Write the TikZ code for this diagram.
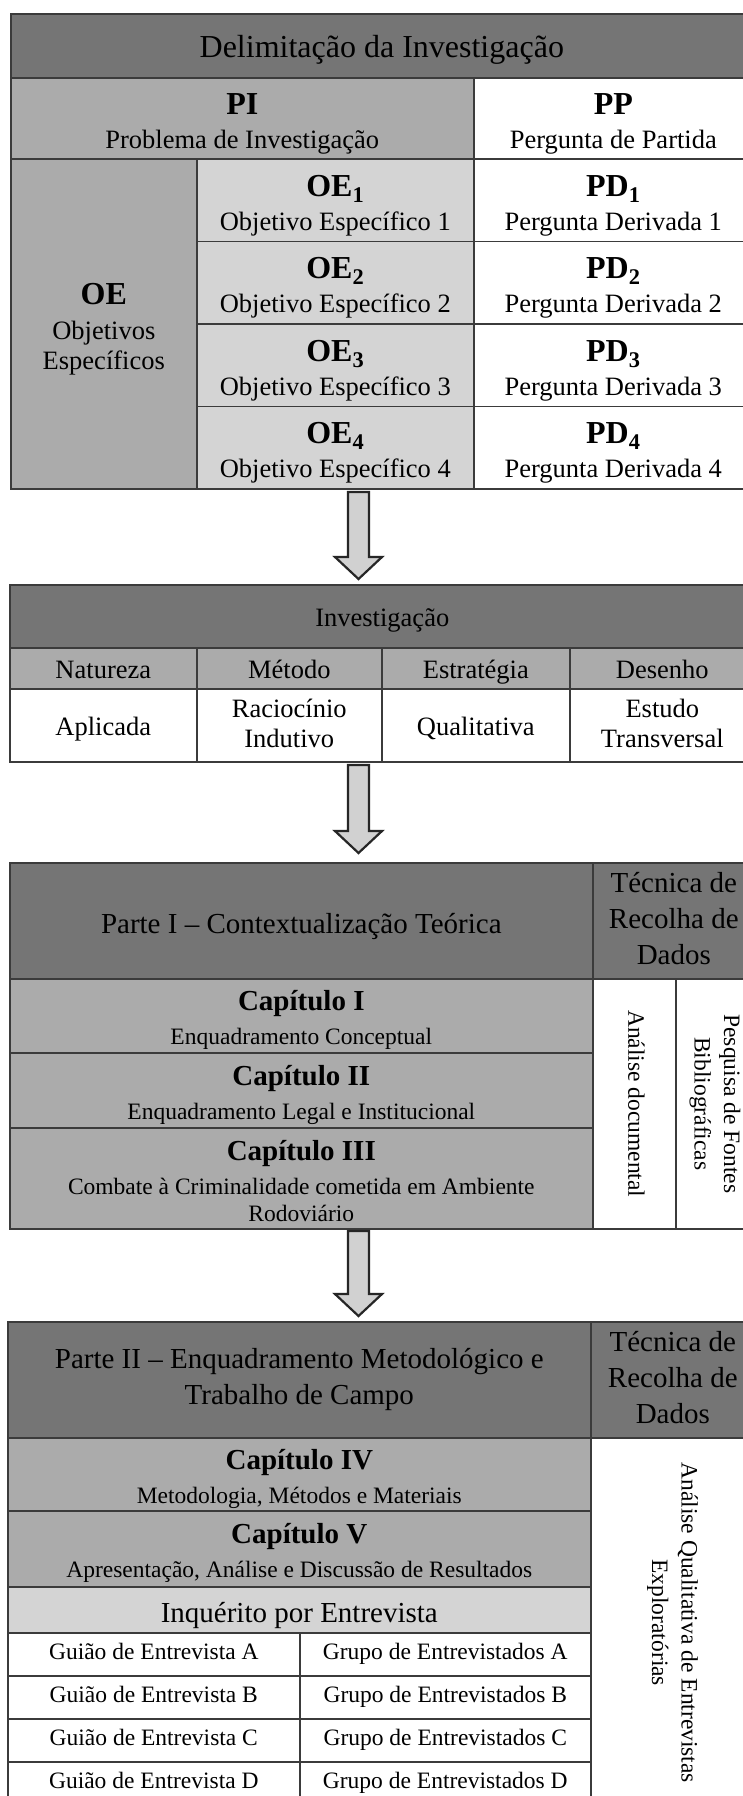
\documentclass[tikz,border=0pt]{standalone}
\usepackage{fontspec}
\setmainfont{Liberation Serif}
\usepackage{graphicx}
\usepackage{xcolor}

\definecolor{hdgray}{gray}{0.46}
\definecolor{midgray}{gray}{0.67}
\definecolor{ltgray}{gray}{0.83}
\definecolor{rulegray}{gray}{0.23}
\definecolor{arrowfill}{gray}{0.82}

\lineskiplimit=-100pt
\newcommand{\cstrut}{\vrule height 0.85\baselineskip depth 0.15\baselineskip width 0pt\relax}
\newcommand{\bstrut}{\vrule height 0.7\baselineskip depth 0.3\baselineskip width 0pt\relax}
\newcommand{\lab}[2]{{\fontsize{#1}{#1}\selectfont\bfseries\vrule height #1pt depth 0pt width 0pt\relax #2}}
\newcommand{\vtxt}[1]{\rotatebox{-90}{\lineskiplimit=0pt\begin{tabular}{@{}c@{}}#1\end{tabular}}}

\begin{document}
\begin{tikzpicture}[x=1pt,y=-1pt,
	cell/.style={draw=rulegray,line width=1.6pt,anchor=north west,inner sep=0pt,align=center},
	tx/.style={execute at begin node=\cstrut,execute at end node=\cstrut},
	hd/.style={cell,tx,fill=hdgray},
	mid/.style={cell,tx,fill=midgray},
	lt/.style={cell,tx,fill=ltgray},
	wh/.style={cell,tx,fill=white},
	row/.style={cell,fill=white,execute at begin node=\bstrut,execute at end node=\bstrut},
	blank/.style={cell,fill=white},
	sz/.style 2 args={minimum width=#1,minimum height=#2},
	fbig/.style={font=\fontsize{32}{36}\selectfont},
	fone/.style={font=\fontsize{26.5}{30}\selectfont},
	ftwo/.style={font=\fontsize{29}{36}\selectfont},
	fsmall/.style={font=\fontsize{23.5}{27}\selectfont},
	frot/.style={font=\fontsize{23.5}{29.5}\selectfont},
	blockarrow/.style={draw=black!85,fill=arrowfill,line width=2.2pt,line join=miter}]
	\path[use as bounding box,fill=white] (0,0) rectangle (743,1796);

	\node[hd,fbig,sz={742}{64}] (delim) at (10,13) {Delimitação da Investigação};
	\node[mid,fone,sz={463}{81}] (pi) at (10,77) {\lab{32}{PI}\\[4pt]Problema de Investigação};
	\node[wh,fone,sz={279}{81}] (pp) at (473,77) {\lab{32}{PP}\\[4pt]Pergunta de Partida};
	\node[mid,fone,sz={186}{330}] (oe) at (10,158) {\lab{32}{OE}\\[5pt]Objetivos\\Específicos};
	\foreach \i in {1,...,4} {
		\node[lt,fone,sz={277}{82.5}] (oe\i) at (196,{158+82.5*(\i-1)})
			{\lab{32}{OE\textsubscript{\i}}\\[4pt]Objetivo Específico \i};
		\node[wh,fone,sz={279}{82.5}] (pd\i) at (473,{158+82.5*(\i-1)})
			{\lab{32}{PD\textsubscript{\i}}\\[4pt]Pergunta Derivada \i};
	}

	\node[hd,fone,sz={745}{63}] (invest) at (9,584) {Investigação};
	\foreach \n/\x/\w/\h/\v in {nat/9/187/Natureza/Aplicada, met/196/185/Método/Raciocínio\\Indutivo,
			est/381/188/Estratégia/Qualitativa, des/569/185/Desenho/Estudo\\Transversal} {
		\node[mid,fone,sz={\w}{41}] (\n) at (\x,647) {\h};
		\node[wh,fone,sz={\w}{73}] (\n-v) at (\x,688) {\v};
	}

	\node[hd,ftwo,sz={583}{116}] (parte1) at (9,862) {Parte I – Contextualização Teórica};
	\node[hd,ftwo,sz={162}{116}] (tec1) at (592,862) {Técnica de\\Recolha de\\Dados};
	\foreach \n/\y/\h/\c/\d in {cap1/978/74/I/Enquadramento Conceptual,
			cap2/1052/75/II/Enquadramento Legal e Institucional,
			cap3/1127/101/III/Combate à Criminalidade cometida em Ambiente\\Rodoviário} {
		\node[mid,fsmall,sz={583}{\h}] (\n) at (9,\y) {\lab{29}{Capítulo \c}\\[7pt]\d};
	}
	\node[blank,frot,sz={83}{250}] (anadoc) at (592,978) {\vtxt{Análise documental}};
	\node[blank,frot,sz={79}{250}] (pesq) at (675,978) {\vtxt{Pesquisa de Fontes\\Bibliográficas}};

	\node[hd,ftwo,sz={583}{116}] (parte2) at (7,1321) {Parte II – Enquadramento Metodológico e\\Trabalho de Campo};
	\node[hd,ftwo,sz={164}{116}] (tec2) at (590,1321) {Técnica de\\Recolha de\\Dados};
	\node[mid,fsmall,sz={583}{73}] (cap4) at (7,1437) {\lab{29}{Capítulo IV}\\[7pt]Metodologia, Métodos e Materiais};
	\node[mid,fsmall,sz={583}{76}] (cap5) at (7,1510) {\lab{29}{Capítulo V}\\[7pt]Apresentação, Análise e Discussão de Resultados};
	\node[lt,ftwo,sz={583}{46}] (inq) at (7,1586) {Inquérito por Entrevista};
	\foreach \l [count=\k] in {A,B,C,D} {
		\node[row,fsmall,sz={292}{43}] (gui\l) at (7,{1632+43*(\k-1)}) {Guião de Entrevista \l};
		\node[row,fsmall,sz={291}{43}] (gru\l) at (299,{1632+43*(\k-1)}) {Grupo de Entrevistados \l};
	}
	\node[blank,frot,sz={164}{370}] (aqe) at (590,1437) {\vtxt{Análise Qualitativa de Entrevistas\\Exploratórias}};

	\foreach \t/\b in {492/579, 765/853, 1231/1316}
		\draw[blockarrow] (348,\t) -- (369,\t) -- (369,\b-22) -- (382,\b-22) -- (358.5,\b)
			-- (335,\b-22) -- (348,\b-22) -- cycle;
\end{tikzpicture}
\end{document}
